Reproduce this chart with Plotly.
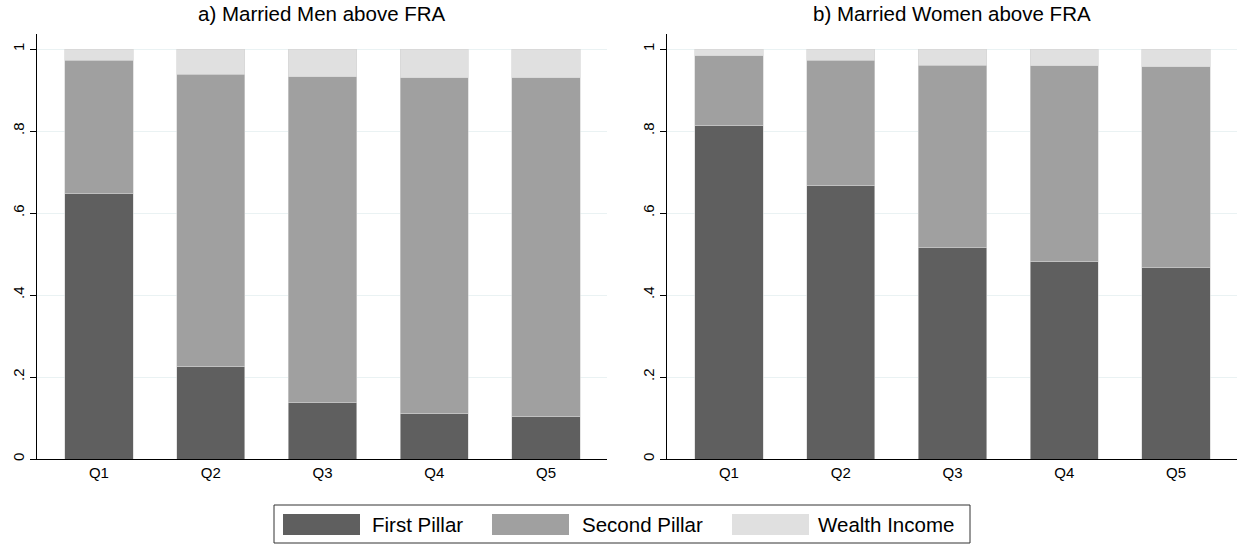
import plotly.graph_objects as go
from plotly.subplots import make_subplots

categories = ["Q1", "Q2", "Q3", "Q4", "Q5"]
series_names = ["First Pillar", "Second Pillar", "Wealth Income"]
series_colors = ["#5f5f5f", "#a0a0a0", "#e0e0e0"]

panel_titles = ["a) Married Men above FRA", "b) Married Women above FRA"]

# shares
men_first = [0.647, 0.226, 0.137, 0.111, 0.104]
men_second = [0.325, 0.713, 0.795, 0.819, 0.826]
men_wealth = [0.028, 0.061, 0.068, 0.070, 0.070]

women_first = [0.814, 0.668, 0.515, 0.482, 0.466]
women_second = [0.170, 0.305, 0.446, 0.477, 0.491]
women_wealth = [0.016, 0.027, 0.039, 0.041, 0.043]

ytick_vals = [0, 0.2, 0.4, 0.6, 0.8, 1.0]
ytick_text = ["0", ".2", ".4", ".6", ".8", "1"]

FONT = "Liberation Sans, Arial, Helvetica, sans-serif"

# layout geometry (pixels)
W, H = 1239, 545
ML, MR, MT, MB = 37, 2, 34, 86
PW = W - ML - MR
PH = H - MT - MB


def px_x(px):
    return (px - ML) / PW


def px_y(py):
    return (H - MB - py) / PH


fig = make_subplots(rows=1, cols=2, horizontal_spacing=60 / PW)

panels = [
    (men_first, men_second, men_wealth),
    (women_first, women_second, women_wealth),
]
for ci, vals in enumerate(panels, start=1):
    for name, color, v in zip(series_names, series_colors, vals):
        fig.add_trace(
            go.Bar(
                x=categories,
                y=v,
                name=name,
                marker=dict(color=color, line=dict(width=0.6, color="#d4d4d4")),
                showlegend=False,
            ),
            row=1,
            col=ci,
        )

fig.update_layout(
    barmode="stack",
    bargap=0.39,
    width=W,
    height=H,
    margin=dict(l=ML, r=MR, t=MT, b=MB),
    plot_bgcolor="white",
    paper_bgcolor="white",
    font=dict(family=FONT, size=15, color="black"),
)

fig.update_xaxes(
    type="category",
    range=[-0.554, 4.545],
    showline=True,
    linecolor="black",
    linewidth=1,
    ticks="",
    showgrid=False,
    tickfont=dict(size=15, color="black"),
    fixedrange=True,
)
fig.update_yaxes(
    range=[0, 1.0366],
    tickvals=ytick_vals,
    ticktext=ytick_text,
    tickangle=-90,
    ticks="outside",
    ticklen=6,
    tickcolor="black",
    showline=True,
    linecolor="black",
    linewidth=1,
    showgrid=True,
    gridcolor="#eaf2f3",
    gridwidth=1,
    zeroline=False,
    tickfont=dict(size=15, color="black"),
    fixedrange=True,
)

# panel titles
dom1 = fig.layout.xaxis.domain
dom2 = fig.layout.xaxis2.domain
for title, dom in zip(panel_titles, [dom1, dom2]):
    fig.add_annotation(
        text=title,
        xref="paper",
        yref="paper",
        x=(dom[0] + dom[1]) / 2,
        y=px_y(13),
        xanchor="center",
        yanchor="middle",
        showarrow=False,
        font=dict(size=20.5, family=FONT, color="black"),
    )

# custom legend
box = (274, 505, 970, 543)
fig.add_shape(
    type="rect",
    xref="paper",
    yref="paper",
    x0=px_x(box[0]),
    x1=px_x(box[2]),
    y0=px_y(box[3]),
    y1=px_y(box[1]),
    line=dict(color="#333333", width=1),
    fillcolor="white",
    layer="below",
)
swatch_x = [283, 492, 732]
swatch_w = 77
text_x = [372, 582, 818]
for name, color, sx, tx in zip(series_names, series_colors, swatch_x, text_x):
    fig.add_shape(
        type="rect",
        xref="paper",
        yref="paper",
        x0=px_x(sx),
        x1=px_x(sx + swatch_w),
        y0=px_y(535),
        y1=px_y(514),
        line=dict(width=0),
        fillcolor=color,
    )
    fig.add_annotation(
        text=name,
        xref="paper",
        yref="paper",
        x=px_x(tx),
        y=px_y(524),
        xanchor="left",
        yanchor="middle",
        showarrow=False,
        xshift=-2,
        font=dict(size=20.5, family=FONT, color="black"),
    )

fig.write_html(
    "out.html",
    config={"displayModeBar": False},
    post_script="document.body.style.margin='0';document.body.style.overflow='hidden';",
)
